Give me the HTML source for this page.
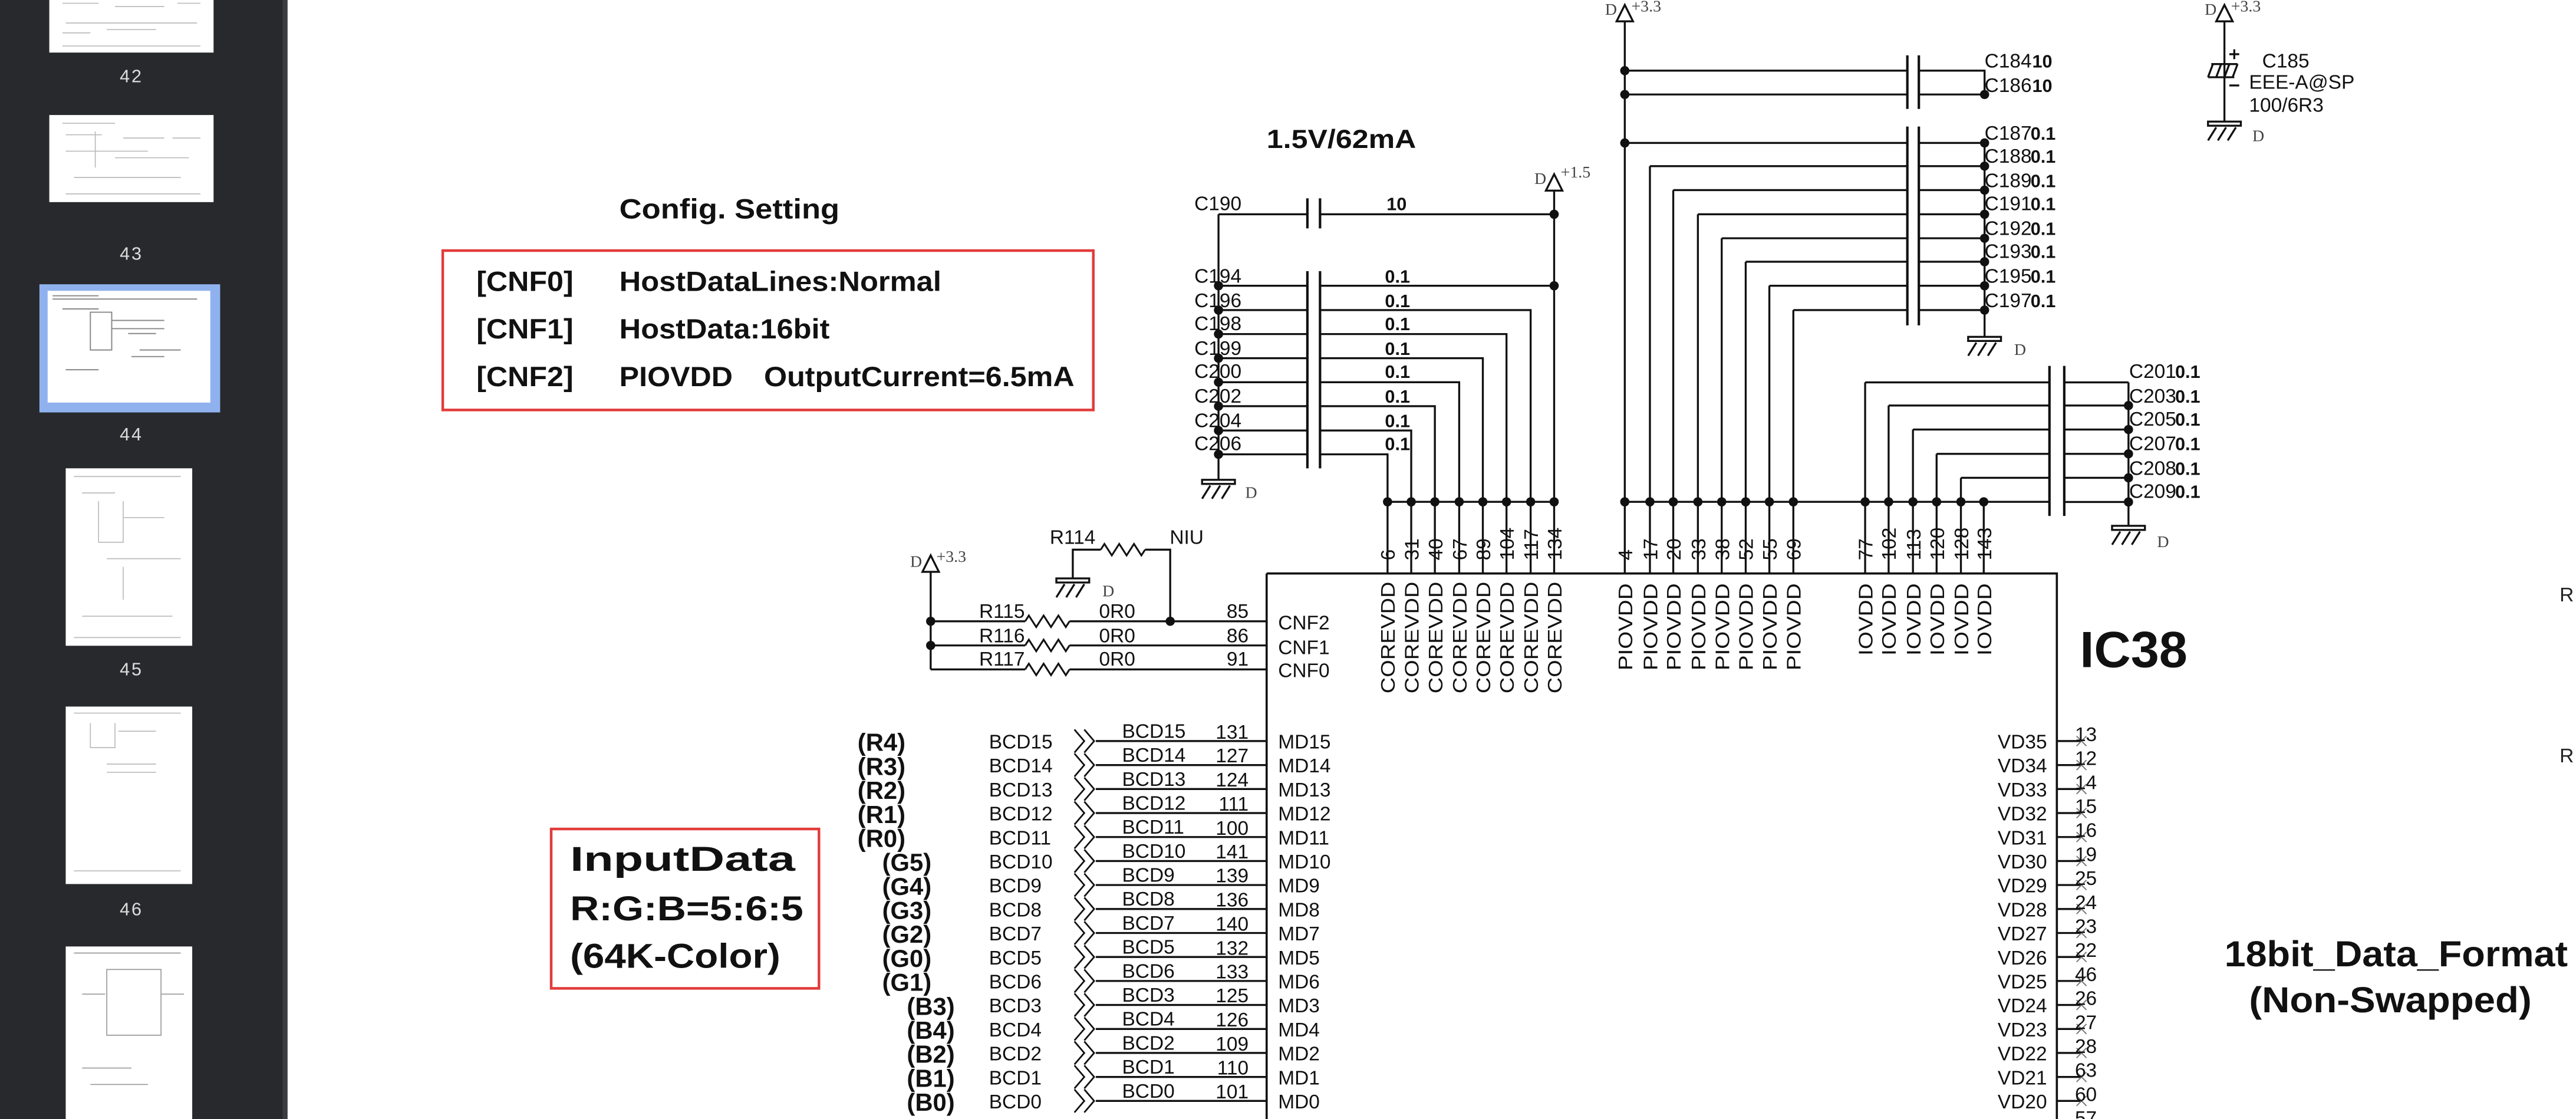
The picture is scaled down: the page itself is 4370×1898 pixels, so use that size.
<!DOCTYPE html>
<html><head><meta charset="utf-8"><style>
html,body{margin:0;padding:0;background:#fff;}
svg{display:block}
text{font-family:"Liberation Sans",sans-serif;fill:#111;}
.s{font-size:12px;fill:#222}
.b{font-weight:bold}
.m{font-family:"Liberation Serif",serif;font-size:10px;fill:#444}
.w{fill:#ddd;font-size:11px;letter-spacing:1px}
</style></head><body>
<svg width="4370" height="1898" viewBox="0 0 1568 681" preserveAspectRatio="none" xmlns="http://www.w3.org/2000/svg">
<defs>
<g id="gnd" stroke="#111" stroke-width="1.2" fill="none"><rect x="-10" y="0" width="20" height="2.5"/><path d="M-5 3.5 l-5 8 M1 3.5 l-5 8 M7 3.5 l-5 8"/></g>
<path id="pwr" d="M-5 10 L0 0 L5 10 Z" fill="#fff" stroke="#111" stroke-width="1.2"/>
<path id="chev" d="M0 -7 L6 0 L0 7 M6 -7 L12 0 L6 7" fill="none" stroke="#111" stroke-width="1"/>
<path id="res" d="M0 0 l2.25 -3.5 l4.5 7 l4.5 -7 l4.5 7 l4.5 -7 l4.5 7 l2.25 -3.5" fill="none" stroke="#111" stroke-width="1.1"/>
<path id="xm" d="M-3 -3 L3 3 M-3 3 L3 -3" stroke="#777" stroke-width="0.7"/>
</defs>
<rect width="1568" height="681" fill="#fff"/>
<!-- sidebar -->
<rect x="0" y="0" width="175" height="681" fill="#28292c"/>
<rect x="172" y="0" width="3" height="681" fill="#3b3c40"/>
<rect x="30" y="0" width="100" height="32" fill="#fff"/>
<g fill="none" stroke="#bbb" stroke-width="0.6"><path d="M38 2 H60 M70 4 H100 M108 2 H122 M40 14 H120 M38 20 H55 M65 18 H95 M38 28 H122"/></g>
<text x="80" y="50" class="w" text-anchor="middle">42</text>
<rect x="30" y="70" width="100" height="53" fill="#fff"/>
<g fill="none" stroke="#bbb" stroke-width="0.6"><path d="M38 75 H70 M40 82 H62 M58 80 V102 M75 84 H100 M105 84 H122 M40 92 H90 M70 96 H115 M45 108 H110 M40 118 H122"/></g>
<text x="80" y="158" class="w" text-anchor="middle">43</text>
<rect x="24" y="173" width="110" height="78" fill="#8fb2ef"/>
<rect x="29" y="177" width="99" height="68" fill="#fff"/>
<g fill="none" stroke="#888" stroke-width="0.7"><path d="M32 180 H60 M32 182 H120 M38 188 H60 M55 190 H68 V213 H55 Z M68 195 H100 M68 200 H100 M78 203 H95 M85 213 H110 M80 217 H100 M40 225 H60"/></g>
<text x="80" y="268" class="w" text-anchor="middle">44</text>
<rect x="40" y="285" width="77" height="108" fill="#fff"/>
<g fill="none" stroke="#bbb" stroke-width="0.6"><path d="M45 290 H110 M50 300 H70 M60 305 V330 H75 V305 M75 315 H100 M65 340 H110 M75 345 V365 M50 375 H105 M45 388 H110"/></g>
<text x="80" y="411" class="w" text-anchor="middle">45</text>
<rect x="40" y="430" width="77" height="108" fill="#fff"/>
<g fill="none" stroke="#bbb" stroke-width="0.6"><path d="M45 434 H110 M55 440 V455 H70 V440 M72 445 H95 M65 465 H95 M65 470 H95 M45 530 H110"/></g>
<text x="80" y="557" class="w" text-anchor="middle">46</text>
<rect x="40" y="576" width="77" height="105" fill="#fff"/>
<g fill="none" stroke="#999" stroke-width="0.6"><path d="M45 580 H110 M65 590 V630 H98 V590 Z M50 605 H64 M98 605 H112 M50 650 H80 M55 660 H90"/></g>

<!-- headings & boxes -->
<text x="771" y="90" class="b" font-size="16" textLength="91" lengthAdjust="spacingAndGlyphs">1.5V/62mA</text>
<text x="377" y="133" class="b" font-size="17" textLength="134" lengthAdjust="spacingAndGlyphs">Config.  Setting</text>
<rect x="269.5" y="152.5" width="396" height="97" fill="none" stroke="#e23b3b" stroke-width="1.6"/>
<text x="290" y="177" class="b" font-size="17" textLength="59" lengthAdjust="spacingAndGlyphs">[CNF0]</text><text x="377" y="177" class="b" font-size="17" textLength="196" lengthAdjust="spacingAndGlyphs">HostDataLines:Normal</text>
<text x="290" y="206" class="b" font-size="17" textLength="59" lengthAdjust="spacingAndGlyphs">[CNF1]</text><text x="377" y="206" class="b" font-size="17" textLength="128" lengthAdjust="spacingAndGlyphs">HostData:16bit</text>
<text x="290" y="235" class="b" font-size="17" textLength="59" lengthAdjust="spacingAndGlyphs">[CNF2]</text><text x="377" y="235" class="b" font-size="17" textLength="69" lengthAdjust="spacingAndGlyphs">PIOVDD</text><text x="465" y="235" class="b" font-size="17" textLength="189" lengthAdjust="spacingAndGlyphs">OutputCurrent=6.5mA</text>
<rect x="335.5" y="504.5" width="163" height="97" fill="none" stroke="#e23b3b" stroke-width="1.6"/>
<text x="347" y="530" class="b" font-size="21" textLength="137" lengthAdjust="spacingAndGlyphs">InputData</text>
<text x="347" y="560" class="b" font-size="21" textLength="142" lengthAdjust="spacingAndGlyphs">R:G:B=5:6:5</text>
<text x="347" y="589" class="b" font-size="21" textLength="128" lengthAdjust="spacingAndGlyphs">(64K-Color)</text>

<g stroke="#111" stroke-width="1.2" fill="none">
<path d="M741.7 130.4 H795.8 M803.5 130.4 H946 M741.7 130.4 V292"/>
<path d="M946 116 V349"/>
<path d="M795.8 120.7 V139 M803.5 120.7 V139 M795.8 165 V285 M803.5 165 V285" stroke-width="1.5"/>
<path d="M741.7 173.9 H795.8 M741.7 188.7 H795.8 M741.7 203.3 H795.8 M741.7 218 H795.8 M741.7 232.6 H795.8 M741.7 247.2 H795.8 M741.7 262 H795.8 M741.7 276.5 H795.8"/>
<path d="M803.5 173.9 H946 M803.5 188.7 H931.7 V349 M803.5 203.3 H917 V349 M803.5 218 H902.6 V349 M803.5 232.6 H888.2 V349 M803.5 247.2 H873.4 V349 M803.5 262 H859 V349 M803.5 276.5 H844.6 V349"/>
<path d="M844.6 305.4 H946"/>
<path d="M989 13 V349"/>
<path d="M989 43 H1161 M1168 43 H1208 V57.5 M989 57.5 H1161 M1168 57.5 H1208"/>
<path d="M1161 33.7 V66.3 M1168 33.7 V66.3 M1161 77 V198 M1168 77 V198 M1247.5 222.7 V314 M1256.5 222.7 V314" stroke-width="1.5"/>
<path d="M989 87 H1161 M1004.3 101.1 H1161 M1018.5 115.7 H1161 M1033.5 130.4 H1161 M1048 145 H1161 M1062.6 159.3 H1161 M1077 173.9 H1161 M1091.6 188.7 H1161"/>
<path d="M1004.3 101.1 V349 M1018.5 115.7 V349 M1033.5 130.4 V349 M1048 145 V349 M1062.6 159.3 V349 M1077 173.9 V349 M1091.6 188.7 V349"/>
<path d="M1168 87 H1208 M1168 101.1 H1208 M1168 115.7 H1208 M1168 130.4 H1208 M1168 145 H1208 M1168 159.3 H1208 M1168 173.9 H1208 M1168 188.7 H1208 M1208 87 V205"/>
<path d="M989 305.4 H1247.5"/>
<path d="M1135.3 232.7 H1247.5 M1149.6 246.8 H1247.5 M1164.4 261.4 H1247.5 M1178.8 276.2 H1247.5 M1193.6 290.8 H1247.5"/>
<path d="M1135.3 232.7 V349 M1149.6 246.8 V349 M1164.4 261.4 V349 M1178.8 276.2 V349 M1193.6 290.8 V349 M1207.5 305.4 V349"/>
<path d="M1256.5 232.7 H1295.6 M1256.5 246.8 H1295.6 M1256.5 261.4 H1295.6 M1256.5 276.2 H1295.6 M1256.5 290.8 H1295.6 M1256.5 305.5 H1295.6 M1295.6 232.7 V320"/>
<path d="M1354 13 V74"/>
<path d="M1346 39 H1362 M1344 47 H1360 M1347 39 l-3 8 M1352 39 l-3 8 M1357 39 l-3 8 M1362 39 l-3 8"/>
<path d="M1357 33 h6 M1360 30 v6 M1357 52 h6"/>
<path d="M771 349 H1252 V690 M771 349 V690" stroke-width="1.3"/>
<path d="M566.5 348 V407.4 M566.5 378.1 H624 M651 378.1 H771 M566.5 392.8 H624 M651 392.8 H771 M566.5 407.4 H624 M651 407.4 H771"/>
<path d="M653 352 V334.5 H670 M697 334.5 H712.3 V378.1"/>
<path d="M1252 451 H1267 M1252 465.6 H1267 M1252 480.2 H1267 M1252 494.8 H1267 M1252 509.4 H1267 M1252 524 H1267 M1252 538.6 H1267 M1252 553.2 H1267 M1252 567.8 H1267 M1252 582.4 H1267 M1252 597 H1267 M1252 611.6 H1267 M1252 626.2 H1267 M1252 640.8 H1267 M1252 655.4 H1267 M1252 670 H1267 M1252 684.6 H1267"/>
<path d="M667 451 H771 M667 465.6 H771 M667 480.2 H771 M667 494.8 H771 M667 509.4 H771 M667 524 H771 M667 538.6 H771 M667 553.2 H771 M667 567.8 H771 M667 582.4 H771 M667 597 H771 M667 611.6 H771 M667 626.2 H771 M667 640.8 H771 M667 655.4 H771 M667 670 H771"/>
</g>
<use href="#res" x="624" y="378.1"/><use href="#res" x="624" y="392.8"/><use href="#res" x="624" y="407.4"/><use href="#res" x="670" y="334.5"/>
<g transform="translate(654,0)">
<use href="#chev" y="451"/><use href="#chev" y="465.6"/><use href="#chev" y="480.2"/><use href="#chev" y="494.8"/><use href="#chev" y="509.4"/><use href="#chev" y="524"/><use href="#chev" y="538.6"/><use href="#chev" y="553.2"/><use href="#chev" y="567.8"/><use href="#chev" y="582.4"/><use href="#chev" y="597"/><use href="#chev" y="611.6"/><use href="#chev" y="626.2"/><use href="#chev" y="640.8"/><use href="#chev" y="655.4"/><use href="#chev" y="670"/>
</g>
<g transform="translate(1267,0)">
<use href="#xm" y="451"/><use href="#xm" y="465.6"/><use href="#xm" y="480.2"/><use href="#xm" y="494.8"/><use href="#xm" y="509.4"/><use href="#xm" y="524"/><use href="#xm" y="538.6"/><use href="#xm" y="553.2"/><use href="#xm" y="567.8"/><use href="#xm" y="582.4"/><use href="#xm" y="597"/><use href="#xm" y="611.6"/><use href="#xm" y="626.2"/><use href="#xm" y="640.8"/><use href="#xm" y="655.4"/><use href="#xm" y="670"/>
</g>
<use href="#gnd" x="741.7" y="292"/><text x="758" y="303" class="m">D</text>
<use href="#gnd" x="1208" y="205"/><text x="1226" y="216" class="m">D</text>
<use href="#gnd" x="1295.6" y="320"/><text x="1313" y="333" class="m">D</text>
<use href="#gnd" x="1354" y="74"/><text x="1371" y="86" class="m">D</text>
<use href="#gnd" x="653" y="352"/><text x="671" y="363" class="m">D</text>
<use href="#pwr" x="946" y="106"/><text x="934" y="112" class="m">D</text><text x="950" y="108" class="m">+1.5</text>
<use href="#pwr" x="989" y="3"/><text x="977" y="9" class="m">D</text><text x="993" y="7" class="m">+3.3</text>
<use href="#pwr" x="1354" y="3"/><text x="1342" y="9" class="m">D</text><text x="1358" y="7" class="m">+3.3</text>
<use href="#pwr" x="566.5" y="338"/><text x="554" y="345" class="m">D</text><text x="570" y="342" class="m">+3.3</text>
<g fill="#111">
<circle cx="946" cy="130.4" r="2.8"/><circle cx="946" cy="173.9" r="2.8"/>
<circle cx="741.7" cy="173.9" r="2.8"/><circle cx="741.7" cy="188.7" r="2.8"/><circle cx="741.7" cy="203.3" r="2.8"/><circle cx="741.7" cy="218" r="2.8"/><circle cx="741.7" cy="232.6" r="2.8"/><circle cx="741.7" cy="247.2" r="2.8"/><circle cx="741.7" cy="262" r="2.8"/><circle cx="741.7" cy="276.5" r="2.8"/>
<circle cx="844.6" cy="305.4" r="2.8"/><circle cx="859" cy="305.4" r="2.8"/><circle cx="873.4" cy="305.4" r="2.8"/><circle cx="888.2" cy="305.4" r="2.8"/><circle cx="902.6" cy="305.4" r="2.8"/><circle cx="917" cy="305.4" r="2.8"/><circle cx="931.7" cy="305.4" r="2.8"/><circle cx="946" cy="305.4" r="2.8"/>
<circle cx="989" cy="43" r="2.8"/><circle cx="989" cy="57.5" r="2.8"/><circle cx="989" cy="87" r="2.8"/><circle cx="1208" cy="57.5" r="2.8"/>
<circle cx="1208" cy="87" r="2.8"/><circle cx="1208" cy="101.1" r="2.8"/><circle cx="1208" cy="115.7" r="2.8"/><circle cx="1208" cy="130.4" r="2.8"/><circle cx="1208" cy="145" r="2.8"/><circle cx="1208" cy="159.3" r="2.8"/><circle cx="1208" cy="173.9" r="2.8"/><circle cx="1208" cy="188.7" r="2.8"/>
<circle cx="989" cy="305.4" r="2.8"/><circle cx="1004.3" cy="305.4" r="2.8"/><circle cx="1018.5" cy="305.4" r="2.8"/><circle cx="1033.5" cy="305.4" r="2.8"/><circle cx="1048" cy="305.4" r="2.8"/><circle cx="1062.6" cy="305.4" r="2.8"/><circle cx="1077" cy="305.4" r="2.8"/><circle cx="1091.6" cy="305.4" r="2.8"/>
<circle cx="1135.3" cy="305.4" r="2.8"/><circle cx="1149.6" cy="305.4" r="2.8"/><circle cx="1164.4" cy="305.4" r="2.8"/><circle cx="1178.8" cy="305.4" r="2.8"/><circle cx="1193.6" cy="305.4" r="2.8"/><circle cx="1207.5" cy="305.4" r="2.8"/>
<circle cx="1295.6" cy="246.8" r="2.8"/><circle cx="1295.6" cy="261.4" r="2.8"/><circle cx="1295.6" cy="276.2" r="2.8"/><circle cx="1295.6" cy="290.8" r="2.8"/><circle cx="1295.6" cy="305.5" r="2.8"/>
<circle cx="566.5" cy="378.1" r="2.8"/><circle cx="566.5" cy="392.8" r="2.8"/><circle cx="712.3" cy="378.1" r="2.8"/>
</g>
<g class="s">
<text x="727" y="128">C190</text>
<text x="727" y="172">C194</text><text x="727" y="187">C196</text><text x="727" y="201">C198</text><text x="727" y="216">C199</text><text x="727" y="230">C200</text><text x="727" y="245">C202</text><text x="727" y="260">C204</text><text x="727" y="274">C206</text>
<text x="1208" y="41">C184</text><text x="1208" y="56">C186</text>
<text x="1208" y="85">C187</text><text x="1208" y="99">C188</text><text x="1208" y="114">C189</text><text x="1208" y="128">C191</text><text x="1208" y="143">C192</text><text x="1208" y="157">C193</text><text x="1208" y="172">C195</text><text x="1208" y="187">C197</text>
<text x="1296" y="230">C201</text><text x="1296" y="245">C203</text><text x="1296" y="259">C205</text><text x="1296" y="274">C207</text><text x="1296" y="289">C208</text><text x="1296" y="303">C209</text>
<text x="1377" y="41">C185</text><text x="1369" y="54">EEE-A@SP</text><text x="1369" y="68">100/6R3</text>
</g>
<g class="b" font-size="11">
<text x="844" y="128">10</text>
<text x="843" y="172">0.1</text><text x="843" y="187">0.1</text><text x="843" y="201">0.1</text><text x="843" y="216">0.1</text><text x="843" y="230">0.1</text><text x="843" y="245">0.1</text><text x="843" y="260">0.1</text><text x="843" y="274">0.1</text>
<text x="1237" y="41">10</text><text x="1237" y="56">10</text>
<text x="1236" y="85">0.1</text><text x="1236" y="99">0.1</text><text x="1236" y="114">0.1</text><text x="1236" y="128">0.1</text><text x="1236" y="143">0.1</text><text x="1236" y="157">0.1</text><text x="1236" y="172">0.1</text><text x="1236" y="187">0.1</text>
<text x="1324" y="230">0.1</text><text x="1324" y="245">0.1</text><text x="1324" y="259">0.1</text><text x="1324" y="274">0.1</text><text x="1324" y="289">0.1</text><text x="1324" y="303">0.1</text>
</g>
<g class="s">
<text transform="translate(849,341) rotate(-90)">6</text>
<text transform="translate(863.5,341) rotate(-90)">31</text>
<text transform="translate(878,341) rotate(-90)">40</text>
<text transform="translate(892.7,341) rotate(-90)">67</text>
<text transform="translate(907,341) rotate(-90)">89</text>
<text transform="translate(921.5,341) rotate(-90)">104</text>
<text transform="translate(936.2,341) rotate(-90)">117</text>
<text transform="translate(950.5,341) rotate(-90)">134</text>
<text transform="translate(993.5,341) rotate(-90)">4</text>
<text transform="translate(1008.8,341) rotate(-90)">17</text>
<text transform="translate(1023,341) rotate(-90)">20</text>
<text transform="translate(1038,341) rotate(-90)">33</text>
<text transform="translate(1052.5,341) rotate(-90)">38</text>
<text transform="translate(1067,341) rotate(-90)">52</text>
<text transform="translate(1081.5,341) rotate(-90)">55</text>
<text transform="translate(1096,341) rotate(-90)">69</text>
<text transform="translate(1139.8,341) rotate(-90)">77</text>
<text transform="translate(1154,341) rotate(-90)">102</text>
<text transform="translate(1169,341) rotate(-90)">113</text>
<text transform="translate(1183.3,341) rotate(-90)">120</text>
<text transform="translate(1198,341) rotate(-90)">128</text>
<text transform="translate(1212,341) rotate(-90)">143</text>
</g>
<g class="s" fill="#333">
<text transform="translate(849,422) rotate(-90)" textLength="68" lengthAdjust="spacingAndGlyphs">COREVDD</text>
<text transform="translate(863.5,422) rotate(-90)" textLength="68" lengthAdjust="spacingAndGlyphs">COREVDD</text>
<text transform="translate(878,422) rotate(-90)" textLength="68" lengthAdjust="spacingAndGlyphs">COREVDD</text>
<text transform="translate(892.7,422) rotate(-90)" textLength="68" lengthAdjust="spacingAndGlyphs">COREVDD</text>
<text transform="translate(907,422) rotate(-90)" textLength="68" lengthAdjust="spacingAndGlyphs">COREVDD</text>
<text transform="translate(921.5,422) rotate(-90)" textLength="68" lengthAdjust="spacingAndGlyphs">COREVDD</text>
<text transform="translate(936.2,422) rotate(-90)" textLength="68" lengthAdjust="spacingAndGlyphs">COREVDD</text>
<text transform="translate(950.5,422) rotate(-90)" textLength="68" lengthAdjust="spacingAndGlyphs">COREVDD</text>
<text transform="translate(993.5,408) rotate(-90)" textLength="53" lengthAdjust="spacingAndGlyphs">PIOVDD</text>
<text transform="translate(1008.8,408) rotate(-90)" textLength="53" lengthAdjust="spacingAndGlyphs">PIOVDD</text>
<text transform="translate(1023,408) rotate(-90)" textLength="53" lengthAdjust="spacingAndGlyphs">PIOVDD</text>
<text transform="translate(1038,408) rotate(-90)" textLength="53" lengthAdjust="spacingAndGlyphs">PIOVDD</text>
<text transform="translate(1052.5,408) rotate(-90)" textLength="53" lengthAdjust="spacingAndGlyphs">PIOVDD</text>
<text transform="translate(1067,408) rotate(-90)" textLength="53" lengthAdjust="spacingAndGlyphs">PIOVDD</text>
<text transform="translate(1081.5,408) rotate(-90)" textLength="53" lengthAdjust="spacingAndGlyphs">PIOVDD</text>
<text transform="translate(1096,408) rotate(-90)" textLength="53" lengthAdjust="spacingAndGlyphs">PIOVDD</text>
<text transform="translate(1139.8,399) rotate(-90)" textLength="44" lengthAdjust="spacingAndGlyphs">IOVDD</text>
<text transform="translate(1154,399) rotate(-90)" textLength="44" lengthAdjust="spacingAndGlyphs">IOVDD</text>
<text transform="translate(1169,399) rotate(-90)" textLength="44" lengthAdjust="spacingAndGlyphs">IOVDD</text>
<text transform="translate(1183.3,399) rotate(-90)" textLength="44" lengthAdjust="spacingAndGlyphs">IOVDD</text>
<text transform="translate(1198,399) rotate(-90)" textLength="44" lengthAdjust="spacingAndGlyphs">IOVDD</text>
<text transform="translate(1212,399) rotate(-90)" textLength="44" lengthAdjust="spacingAndGlyphs">IOVDD</text>
</g>
<g class="s">
<text x="639" y="331">R114</text><text x="712" y="331">NIU</text>
<text x="596" y="376">R115</text><text x="669" y="376">0R0</text><text x="760" y="376" text-anchor="end">85</text>
<text x="596" y="391">R116</text><text x="669" y="391">0R0</text><text x="760" y="391" text-anchor="end">86</text>
<text x="596" y="405">R117</text><text x="669" y="405">0R0</text><text x="760" y="405" text-anchor="end">91</text>
<text x="778" y="383" fill="#333">CNF2</text><text x="778" y="398" fill="#333">CNF1</text><text x="778" y="412" fill="#333">CNF0</text>
</g>
<g class="s">
<text x="602" y="455.5">BCD15</text><text x="602" y="470">BCD14</text><text x="602" y="484.7">BCD13</text><text x="602" y="499.3">BCD12</text><text x="602" y="514">BCD11</text><text x="602" y="528.5">BCD10</text><text x="602" y="543">BCD9</text><text x="602" y="557.7">BCD8</text><text x="602" y="572.3">BCD7</text><text x="602" y="587">BCD5</text><text x="602" y="601.5">BCD6</text><text x="602" y="616">BCD3</text><text x="602" y="630.7">BCD4</text><text x="602" y="645.3">BCD2</text><text x="602" y="660">BCD1</text><text x="602" y="674.5">BCD0</text>
<text x="683" y="449">BCD15</text><text x="683" y="463.6">BCD14</text><text x="683" y="478.2">BCD13</text><text x="683" y="492.8">BCD12</text><text x="683" y="507.4">BCD11</text><text x="683" y="522">BCD10</text><text x="683" y="536.6">BCD9</text><text x="683" y="551.2">BCD8</text><text x="683" y="565.8">BCD7</text><text x="683" y="580.4">BCD5</text><text x="683" y="595">BCD6</text><text x="683" y="609.6">BCD3</text><text x="683" y="624.2">BCD4</text><text x="683" y="638.8">BCD2</text><text x="683" y="653.4">BCD1</text><text x="683" y="668">BCD0</text>
</g>
<g class="s" text-anchor="end">
<text x="760" y="449.5">131</text><text x="760" y="464">127</text><text x="760" y="478.7">124</text><text x="760" y="493.3">111</text><text x="760" y="508">100</text><text x="760" y="522.5">141</text><text x="760" y="537">139</text><text x="760" y="551.7">136</text><text x="760" y="566.3">140</text><text x="760" y="581">132</text><text x="760" y="595.5">133</text><text x="760" y="610">125</text><text x="760" y="624.7">126</text><text x="760" y="639.3">109</text><text x="760" y="654">110</text><text x="760" y="668.5">101</text>
</g>
<g class="s" fill="#333">
<text x="778" y="455.5">MD15</text><text x="778" y="470">MD14</text><text x="778" y="484.7">MD13</text><text x="778" y="499.3">MD12</text><text x="778" y="514">MD11</text><text x="778" y="528.5">MD10</text><text x="778" y="543">MD9</text><text x="778" y="557.7">MD8</text><text x="778" y="572.3">MD7</text><text x="778" y="587">MD5</text><text x="778" y="601.5">MD6</text><text x="778" y="616">MD3</text><text x="778" y="630.7">MD4</text><text x="778" y="645.3">MD2</text><text x="778" y="660">MD1</text><text x="778" y="674.5">MD0</text>
</g>
<g class="b" font-size="15">
<text x="522" y="457">(R4)</text><text x="522" y="471.6">(R3)</text><text x="522" y="486.2">(R2)</text><text x="522" y="500.8">(R1)</text><text x="522" y="515.4">(R0)</text>
<text x="537" y="530">(G5)</text><text x="537" y="544.6">(G4)</text><text x="537" y="559.2">(G3)</text><text x="537" y="573.8">(G2)</text><text x="537" y="588.4">(G0)</text><text x="537" y="603">(G1)</text>
<text x="552" y="617.6">(B3)</text><text x="552" y="632.2">(B4)</text><text x="552" y="646.8">(B2)</text><text x="552" y="661.4">(B1)</text><text x="552" y="676">(B0)</text>
</g>
<g class="s" fill="#333" text-anchor="end">
<text x="1246" y="455.5">VD35</text><text x="1246" y="470">VD34</text><text x="1246" y="484.7">VD33</text><text x="1246" y="499.3">VD32</text><text x="1246" y="514">VD31</text><text x="1246" y="528.5">VD30</text><text x="1246" y="543">VD29</text><text x="1246" y="557.7">VD28</text><text x="1246" y="572.3">VD27</text><text x="1246" y="587">VD26</text><text x="1246" y="601.5">VD25</text><text x="1246" y="616">VD24</text><text x="1246" y="630.7">VD23</text><text x="1246" y="645.3">VD22</text><text x="1246" y="660">VD21</text><text x="1246" y="674.5">VD20</text>
</g>
<g class="s">
<text x="1263" y="451">13</text><text x="1263" y="465.6">12</text><text x="1263" y="480.2">14</text><text x="1263" y="494.8">15</text><text x="1263" y="509.4">16</text><text x="1263" y="524">19</text><text x="1263" y="538.6">25</text><text x="1263" y="553.2">24</text><text x="1263" y="567.8">23</text><text x="1263" y="582.4">22</text><text x="1263" y="597">46</text><text x="1263" y="611.6">26</text><text x="1263" y="626.2">27</text><text x="1263" y="640.8">28</text><text x="1263" y="655.4">63</text><text x="1263" y="670">60</text><text x="1263" y="684.6">57</text>
</g>
<text x="1266" y="406" class="b" font-size="31">IC38</text>
<text x="1354" y="588" class="b" font-size="22" textLength="209" lengthAdjust="spacingAndGlyphs">18bit_Data_Format</text>
<text x="1369" y="616" class="b" font-size="22" textLength="172" lengthAdjust="spacingAndGlyphs">(Non-Swapped)</text>
<text x="1558" y="366" class="s">R</text>
<text x="1558" y="464" class="s">R</text>
</svg>
</body></html>
